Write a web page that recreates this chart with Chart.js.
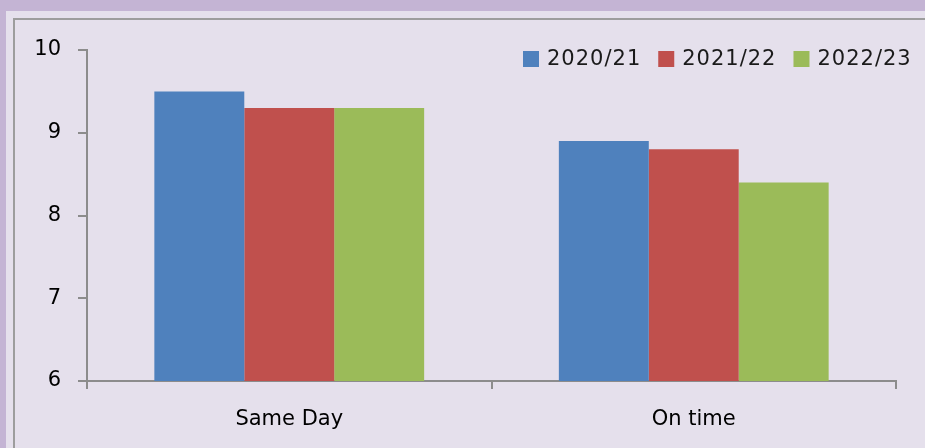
<!DOCTYPE html>
<html>
<head>
<meta charset="utf-8">
<script src="https://cdn.jsdelivr.net/npm/chart.js@4"></script>
<style>
  body { margin: 0; background: #c4b4d4; width: 925px; height: 448px; overflow: hidden; position: relative; }
  #panel { position: absolute; left: 6px; top: 11px; width: 919px; height: 437px; background: #e5e0ec; }
  #frame { position: absolute; left: 13px; top: 18px; width: 930px; height: 450px; border: 2px solid #9d9d9d; }
  #myChart { position: absolute; left: 0; top: 0; }
</style>
</head>
<body>
<div id="panel"></div>
<div id="frame"></div>
<canvas id="myChart" width="925" height="448"></canvas>
<script>
// Chart data
var categories = ['Same Day', 'On time'];
var seriesNames = ['2020/21', '2021/22', '2022/23'];
var values2020 = [9.5, 8.9];
var values2021 = [9.3, 8.8];
var values2022 = [9.3, 8.4];
var yTicks = [6, 7, 8, 9, 10];

var colors = ['#4f81bd', '#c0504d', '#9bbb59'];
var axisColor = '#8c8c8c';
var font = { family: 'DejaVu Sans', size: 21 };

// Excel-style legend drawn inside the plot area, top right
var legendPlugin = {
  id: 'insideLegend',
  afterDraw: function (chart) {
    var c = chart.ctx;
    var x = 523, y = 59;
    c.save();
    c.font = font.size + 'px ' + font.family;
    c.letterSpacing = '1px';
    c.textBaseline = 'middle';
    chart.data.datasets.forEach(function (ds) {
      c.fillStyle = ds.backgroundColor;
      c.fillRect(x, y - 8, 16, 16);
      c.fillStyle = '#1a1a1a';
      c.fillText(ds.label, x + 24, y + 1);
      x += 24 + c.measureText(ds.label).width + 17;
    });
    c.restore();
  }
};

var ctx = document.getElementById('myChart').getContext('2d');
var myChart = new Chart(ctx, {
  type: 'bar',
  data: {
    labels: categories,
    datasets: [
      { label: seriesNames[0], data: values2020, backgroundColor: colors[0] },
      { label: seriesNames[1], data: values2021, backgroundColor: colors[1] },
      { label: seriesNames[2], data: values2022, backgroundColor: colors[2] }
    ]
  },
  options: {
    responsive: false,
    animation: false,
    devicePixelRatio: 1,
    categoryPercentage: 0.667,
    barPercentage: 1,
    layout: { padding: { left: 0, top: 50, right: 29, bottom: 0 } },
    plugins: { legend: { display: false }, tooltip: { enabled: false } },
    scales: {
      x: {
        grid: { offset: true, drawOnChartArea: false, drawTicks: true, tickLength: 8, color: axisColor, lineWidth: 2 },
        border: { color: axisColor, width: 2 },
        ticks: { color: '#000', font: font, padding: 18 },
        afterFit: function (s) { s.height = 67; }
      },
      y: {
        min: yTicks[0],
        max: yTicks[yTicks.length - 1],
        afterBuildTicks: function (s) { s.ticks = yTicks.map(function (v) { return { value: v }; }); },
        grid: { drawOnChartArea: false, drawTicks: true, tickLength: 9, color: axisColor, lineWidth: 2 },
        border: { color: axisColor, width: 2 },
        ticks: { color: '#000', font: font, padding: 17 },
        afterFit: function (s) { s.width = 87; }
      }
    }
  },
  plugins: [legendPlugin]
});
</script>
</body>
</html>
